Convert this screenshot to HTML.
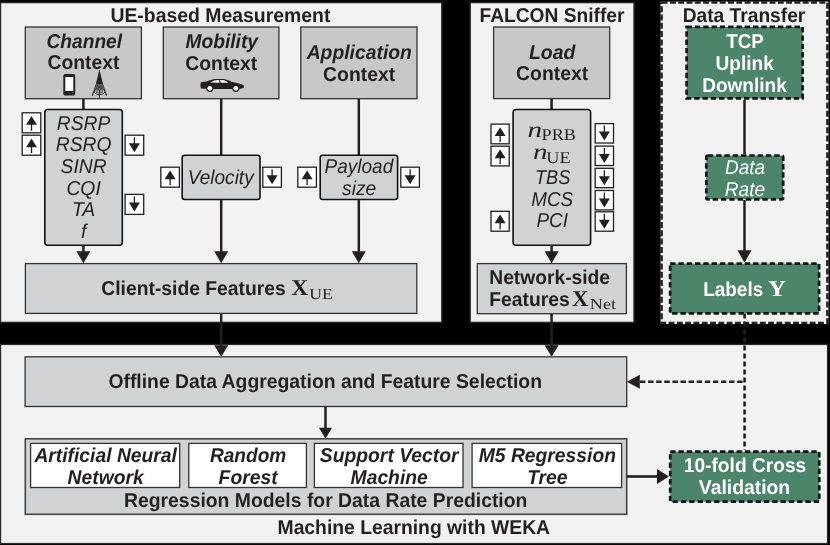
<!DOCTYPE html><html><head><meta charset="utf-8"><title>Data rate prediction framework</title><style>html,body{margin:0;padding:0;background:#000;width:830px;height:545px;overflow:hidden}svg{display:block;will-change:transform}text{text-rendering:geometricPrecision}</style></head><body>
<svg width="830" height="545" viewBox="0 0 830 545">
<rect x="0" y="0" width="830" height="545" fill="#000"/>
<rect x="0.5" y="2.6" width="441.30" height="319.80" rx="0" fill="#f2f2f2" stroke="#2a2a2a" stroke-width="1.4" />
<rect x="470.2" y="2.6" width="163.80" height="319.80" rx="0" fill="#f2f2f2" stroke="#2a2a2a" stroke-width="1.4" />
<rect x="661.6" y="2.6" width="165.8" height="320.4" fill="#f2f2f2"/>
<rect x="661.6" y="2.6" width="165.8" height="320.4" fill="none" stroke="#fff" stroke-width="2"/>
<rect x="661.6" y="2.6" width="165.8" height="320.4" fill="none" stroke="#231f20" stroke-width="2.5" stroke-dasharray="6 2.3"/>
<rect x="0.5" y="344.4" width="827.10" height="199.20" rx="0" fill="#f2f2f2" stroke="#2a2a2a" stroke-width="1.4" />
<text x="220.4" y="22.3" font-family='"Liberation Sans", sans-serif' font-size="20" font-weight="bold" font-style="normal" fill="#231f20" text-anchor="middle" textLength="220" lengthAdjust="spacingAndGlyphs">UE-based Measurement</text>
<text x="552" y="22.2" font-family='"Liberation Sans", sans-serif' font-size="20" font-weight="bold" font-style="normal" fill="#231f20" text-anchor="middle" textLength="145" lengthAdjust="spacingAndGlyphs">FALCON Sniffer</text>
<text x="744" y="22.2" font-family='"Liberation Sans", sans-serif' font-size="20" font-weight="bold" font-style="normal" fill="#231f20" text-anchor="middle" textLength="122.7" lengthAdjust="spacingAndGlyphs">Data Transfer</text>
<rect x="25.3" y="27" width="116.10" height="71.70" rx="0" fill="#c8c8c8" stroke="#333" stroke-width="1.3" />
<rect x="163.3" y="27" width="115.60" height="71.70" rx="0" fill="#c8c8c8" stroke="#333" stroke-width="1.3" />
<rect x="300.8" y="27" width="116.20" height="71.70" rx="0" fill="#c8c8c8" stroke="#333" stroke-width="1.3" />
<rect x="493.6" y="27" width="116.10" height="71.60" rx="0" fill="#c8c8c8" stroke="#333" stroke-width="1.3" />
<text x="84.3" y="48" font-family='"Liberation Sans", sans-serif' font-size="20" font-weight="bold" font-style="italic" fill="#231f20" text-anchor="middle" textLength="75.5" lengthAdjust="spacingAndGlyphs">Channel</text>
<text x="83.5" y="69" font-family='"Liberation Sans", sans-serif' font-size="20" font-weight="bold" font-style="normal" fill="#231f20" text-anchor="middle" textLength="72" lengthAdjust="spacingAndGlyphs">Context</text>
<text x="221.7" y="47.5" font-family='"Liberation Sans", sans-serif' font-size="20" font-weight="bold" font-style="italic" fill="#231f20" text-anchor="middle" textLength="72.6" lengthAdjust="spacingAndGlyphs">Mobility</text>
<text x="221.3" y="69.6" font-family='"Liberation Sans", sans-serif' font-size="20" font-weight="bold" font-style="normal" fill="#231f20" text-anchor="middle" textLength="72" lengthAdjust="spacingAndGlyphs">Context</text>
<text x="359.3" y="59" font-family='"Liberation Sans", sans-serif' font-size="20" font-weight="bold" font-style="italic" fill="#231f20" text-anchor="middle" textLength="105.3" lengthAdjust="spacingAndGlyphs">Application</text>
<text x="359.1" y="80.7" font-family='"Liberation Sans", sans-serif' font-size="20" font-weight="bold" font-style="normal" fill="#231f20" text-anchor="middle" textLength="72" lengthAdjust="spacingAndGlyphs">Context</text>
<text x="552.2" y="59.2" font-family='"Liberation Sans", sans-serif' font-size="20" font-weight="bold" font-style="italic" fill="#231f20" text-anchor="middle" textLength="46.4" lengthAdjust="spacingAndGlyphs">Load</text>
<text x="552.1" y="80.4" font-family='"Liberation Sans", sans-serif' font-size="20" font-weight="bold" font-style="normal" fill="#231f20" text-anchor="middle" textLength="72" lengthAdjust="spacingAndGlyphs">Context</text>
<rect x="63.3" y="73.9" width="11.9" height="21.7" rx="1.8" fill="#231f20"/>
<rect x="65.3" y="77" width="8" height="14" fill="#fff"/>
<rect x="68.3" y="93" width="2" height="0.7" fill="#666"/>
<line x1="99.4" y1="70" x2="99.4" y2="98.4" stroke="#231f20" stroke-width="0.9"/>
<path d="M99.4 71.8 Q97 84 92.3 95.7 M99.4 71.8 Q101.8 84 106.6 95.7" stroke="#231f20" stroke-width="1.1" fill="none"/>
<polygon points="99.4,72.2 96.1,84.5 102.7,84.5" fill="#231f20"/>
<polygon points="96.1,84.5 102.7,84.5 104.4,90.3 94.4,90.3" fill="#5e5e5e"/>
<path d="M97 85.5 L103.5 89.5 M101.8 85.5 L95.3 89.5" stroke="#333" stroke-width="0.6" fill="none"/>
<line x1="94" y1="91" x2="104.8" y2="91" stroke="#231f20" stroke-width="0.9" stroke-dasharray="1.6 0.9"/>
<path d="M93.6 92 Q99.4 97.8 105.2 92" stroke="#231f20" stroke-width="0.9" fill="none"/>
<path d="M96 92.3 Q99.4 94 102.8 92.3" stroke="#231f20" stroke-width="0.7" fill="none"/>
<path d="M200.6 83 L201.6 82 L206.7 81.5 L210.4 80 L214.8 79.1 L223.6 79.1 L228 80 L231.7 81.8 L239.9 83.7 L243.3 85 L244.2 86.2 L243.9 87.6 L242 88.6 L238.6 89 L233 89 L212.6 89 L207 89 L201 88.6 L200.4 86 Z" fill="#231f20"/>
<path d="M210.3 82.6 L214.2 80.4 L219.2 80.1 L219.3 82.7 Z M220 80.1 L224.2 80.2 L227.6 82 L227.6 82.7 L220.7 82.7 Z" fill="#fff"/>
<circle cx="209.8" cy="88.3" r="3.6" fill="#231f20"/><circle cx="209.8" cy="88.3" r="2.4" fill="#fff"/>
<circle cx="235.8" cy="88.3" r="3.6" fill="#231f20"/><circle cx="235.8" cy="88.3" r="2.4" fill="#fff"/>
<line x1="83.4" y1="99" x2="83.4" y2="110" stroke="#231f20" stroke-width="2.5"/>
<line x1="221.2" y1="99" x2="221.2" y2="156" stroke="#231f20" stroke-width="2.5"/>
<line x1="358.8" y1="99" x2="358.8" y2="156" stroke="#231f20" stroke-width="2.5"/>
<line x1="551.6" y1="98.6" x2="551.6" y2="110" stroke="#231f20" stroke-width="2.5"/>
<line x1="744.5" y1="99.3" x2="744.5" y2="155" stroke="#231f20" stroke-width="2.5"/>
<rect x="44.8" y="109.5" width="77.50" height="135.80" rx="3" fill="#d1d2d4" stroke="#111" stroke-width="1.6" />
<rect x="513.1" y="109.5" width="77.50" height="135.80" rx="3" fill="#d1d2d4" stroke="#111" stroke-width="1.6" />
<text x="83.6" y="129.9" font-family='"Liberation Sans", sans-serif' font-size="20" font-weight="normal" font-style="italic" fill="#231f20" text-anchor="middle" textLength="53.5" lengthAdjust="spacingAndGlyphs">RSRP</text>
<text x="83.6" y="151.4" font-family='"Liberation Sans", sans-serif' font-size="20" font-weight="normal" font-style="italic" fill="#231f20" text-anchor="middle" textLength="55.76" lengthAdjust="spacingAndGlyphs">RSRQ</text>
<text x="83.6" y="173.0" font-family='"Liberation Sans", sans-serif' font-size="20" font-weight="normal" font-style="italic" fill="#231f20" text-anchor="middle" textLength="46.11" lengthAdjust="spacingAndGlyphs">SINR</text>
<text x="83.6" y="194.6" font-family='"Liberation Sans", sans-serif' font-size="20" font-weight="normal" font-style="italic" fill="#231f20" text-anchor="middle" textLength="34.31" lengthAdjust="spacingAndGlyphs">CQI</text>
<text x="83.6" y="216.3" font-family='"Liberation Sans", sans-serif' font-size="20" font-weight="normal" font-style="italic" fill="#231f20" text-anchor="middle" textLength="23.23" lengthAdjust="spacingAndGlyphs">TA</text>
<text x="83.6" y="238.0" font-family='"Liberation Sans", sans-serif' font-size="20" font-weight="normal" font-style="italic" fill="#231f20" text-anchor="middle" textLength="5.36" lengthAdjust="spacingAndGlyphs"><tspan>f</tspan></text>
<text x="527.4" y="137.2" font-family='"Liberation Serif", serif' font-size="22.5" font-weight="normal" font-style="italic" fill="#231f20" text-anchor="start" textLength="14.6" lengthAdjust="spacingAndGlyphs">n</text>
<text x="541.6" y="140.1" font-family='"Liberation Serif", serif' font-size="16.6" font-weight="normal" font-style="normal" fill="#231f20" text-anchor="start" textLength="34.4" lengthAdjust="spacingAndGlyphs">PRB</text>
<text x="532.9" y="159.4" font-family='"Liberation Serif", serif' font-size="22.5" font-weight="normal" font-style="italic" fill="#231f20" text-anchor="start" textLength="14.6" lengthAdjust="spacingAndGlyphs">n</text>
<text x="546.3" y="163.1" font-family='"Liberation Serif", serif' font-size="16.6" font-weight="normal" font-style="normal" fill="#231f20" text-anchor="start" textLength="24.3" lengthAdjust="spacingAndGlyphs">UE</text>
<text x="552.7" y="183.7" font-family='"Liberation Sans", sans-serif' font-size="20" font-weight="normal" font-style="italic" fill="#231f20" text-anchor="middle" textLength="35.5" lengthAdjust="spacingAndGlyphs">TBS</text>
<text x="552.2" y="205.5" font-family='"Liberation Sans", sans-serif' font-size="20" font-weight="normal" font-style="italic" fill="#231f20" text-anchor="middle" textLength="41.9" lengthAdjust="spacingAndGlyphs">MCS</text>
<text x="552.2" y="227.2" font-family='"Liberation Sans", sans-serif' font-size="20" font-weight="normal" font-style="italic" fill="#231f20" text-anchor="middle" textLength="31.6" lengthAdjust="spacingAndGlyphs">PCI</text>
<rect x="182.2" y="155.3" width="77.80" height="44.20" rx="2.5" fill="#d1d2d4" stroke="#111" stroke-width="1.6" />
<rect x="320.2" y="155.3" width="77.40" height="44.20" rx="2.5" fill="#d1d2d4" stroke="#111" stroke-width="1.6" />
<text x="220.7" y="184.3" font-family='"Liberation Sans", sans-serif' font-size="20" font-weight="normal" font-style="italic" fill="#231f20" text-anchor="middle" textLength="66" lengthAdjust="spacingAndGlyphs">Velocity</text>
<text x="358.9" y="172.9" font-family='"Liberation Sans", sans-serif' font-size="20" font-weight="normal" font-style="italic" fill="#231f20" text-anchor="middle" textLength="68.6" lengthAdjust="spacingAndGlyphs">Payload</text>
<text x="359.2" y="195.3" font-family='"Liberation Sans", sans-serif' font-size="20" font-weight="normal" font-style="italic" fill="#231f20" text-anchor="middle" textLength="34.32" lengthAdjust="spacingAndGlyphs">size</text>
<rect x="22.2" y="112.8" width="18.60" height="20.00" rx="0" fill="#fff" stroke="#231f20" stroke-width="1.3" />
<polygon points="31.5,116.0 26.0,124.8 37.0,124.8" fill="#231f20"/>
<line x1="31.5" y1="123.8" x2="31.5" y2="130.8" stroke="#231f20" stroke-width="1.3"/>
<rect x="22.2" y="135.2" width="18.60" height="20.00" rx="0" fill="#fff" stroke="#231f20" stroke-width="1.3" />
<polygon points="31.5,138.39999999999998 26.0,147.2 37.0,147.2" fill="#231f20"/>
<line x1="31.5" y1="146.2" x2="31.5" y2="153.2" stroke="#231f20" stroke-width="1.3"/>
<rect x="125.1" y="135.2" width="18.60" height="20.00" rx="0" fill="#fff" stroke="#231f20" stroke-width="1.3" />
<line x1="134.4" y1="137.2" x2="134.4" y2="144.2" stroke="#231f20" stroke-width="1.3"/>
<polygon points="128.9,143.2 139.9,143.2 134.4,152.2" fill="#231f20"/>
<rect x="125.1" y="194.4" width="18.60" height="20.00" rx="0" fill="#fff" stroke="#231f20" stroke-width="1.3" />
<line x1="134.4" y1="196.4" x2="134.4" y2="203.4" stroke="#231f20" stroke-width="1.3"/>
<polygon points="128.9,202.4 139.9,202.4 134.4,211.4" fill="#231f20"/>
<rect x="160.8" y="167.2" width="18.60" height="20.00" rx="0" fill="#fff" stroke="#231f20" stroke-width="1.3" />
<polygon points="170.10000000000002,170.39999999999998 164.60000000000002,179.2 175.60000000000002,179.2" fill="#231f20"/>
<line x1="170.10000000000002" y1="178.2" x2="170.10000000000002" y2="185.2" stroke="#231f20" stroke-width="1.3"/>
<rect x="262.8" y="167.2" width="18.60" height="20.00" rx="0" fill="#fff" stroke="#231f20" stroke-width="1.3" />
<line x1="272.1" y1="169.2" x2="272.1" y2="176.2" stroke="#231f20" stroke-width="1.3"/>
<polygon points="266.6,175.2 277.6,175.2 272.1,184.2" fill="#231f20"/>
<rect x="297.8" y="167.2" width="18.60" height="20.00" rx="0" fill="#fff" stroke="#231f20" stroke-width="1.3" />
<polygon points="307.1,170.39999999999998 301.6,179.2 312.6,179.2" fill="#231f20"/>
<line x1="307.1" y1="178.2" x2="307.1" y2="185.2" stroke="#231f20" stroke-width="1.3"/>
<rect x="400.8" y="167.2" width="18.60" height="20.00" rx="0" fill="#fff" stroke="#231f20" stroke-width="1.3" />
<line x1="410.1" y1="169.2" x2="410.1" y2="176.2" stroke="#231f20" stroke-width="1.3"/>
<polygon points="404.6,175.2 415.6,175.2 410.1,184.2" fill="#231f20"/>
<rect x="491" y="124.1" width="18.20" height="19.70" rx="0" fill="#fff" stroke="#231f20" stroke-width="1.3" />
<polygon points="500.1,127.3 494.6,136.1 505.6,136.1" fill="#231f20"/>
<line x1="500.1" y1="135.1" x2="500.1" y2="142.1" stroke="#231f20" stroke-width="1.3"/>
<rect x="491" y="146.2" width="18.20" height="19.70" rx="0" fill="#fff" stroke="#231f20" stroke-width="1.3" />
<polygon points="500.1,149.39999999999998 494.6,158.2 505.6,158.2" fill="#231f20"/>
<line x1="500.1" y1="157.2" x2="500.1" y2="164.2" stroke="#231f20" stroke-width="1.3"/>
<rect x="491" y="211.3" width="18.20" height="19.90" rx="0" fill="#fff" stroke="#231f20" stroke-width="1.3" />
<polygon points="500.1,214.5 494.6,223.3 505.6,223.3" fill="#231f20"/>
<line x1="500.1" y1="222.3" x2="500.1" y2="229.3" stroke="#231f20" stroke-width="1.3"/>
<rect x="595.2" y="123.6" width="18.30" height="19.40" rx="0" fill="#fff" stroke="#231f20" stroke-width="1.3" />
<line x1="604.35" y1="125.6" x2="604.35" y2="132.6" stroke="#231f20" stroke-width="1.3"/>
<polygon points="598.85,131.6 609.85,131.6 604.35,140.6" fill="#231f20"/>
<rect x="595.2" y="146.1" width="18.30" height="19.40" rx="0" fill="#fff" stroke="#231f20" stroke-width="1.3" />
<line x1="604.35" y1="148.1" x2="604.35" y2="155.1" stroke="#231f20" stroke-width="1.3"/>
<polygon points="598.85,154.1 609.85,154.1 604.35,163.1" fill="#231f20"/>
<rect x="595.2" y="168.3" width="18.30" height="19.40" rx="0" fill="#fff" stroke="#231f20" stroke-width="1.3" />
<line x1="604.35" y1="170.3" x2="604.35" y2="177.3" stroke="#231f20" stroke-width="1.3"/>
<polygon points="598.85,176.3 609.85,176.3 604.35,185.3" fill="#231f20"/>
<rect x="595.2" y="190.5" width="18.30" height="19.40" rx="0" fill="#fff" stroke="#231f20" stroke-width="1.3" />
<line x1="604.35" y1="192.5" x2="604.35" y2="199.5" stroke="#231f20" stroke-width="1.3"/>
<polygon points="598.85,198.5 609.85,198.5 604.35,207.5" fill="#231f20"/>
<rect x="595.2" y="211.8" width="18.30" height="19.40" rx="0" fill="#fff" stroke="#231f20" stroke-width="1.3" />
<line x1="604.35" y1="213.8" x2="604.35" y2="220.8" stroke="#231f20" stroke-width="1.3"/>
<polygon points="598.85,219.8 609.85,219.8 604.35,228.8" fill="#231f20"/>
<line x1="83.4" y1="245.3" x2="83.4" y2="252" stroke="#231f20" stroke-width="2.5"/>
<polygon points="76.4,251.2 90.4,251.2 83.4,263.2" fill="#231f20"/>
<line x1="221.2" y1="199.5" x2="221.2" y2="252" stroke="#231f20" stroke-width="2.5"/>
<polygon points="214.2,251.2 228.2,251.2 221.2,263.2" fill="#231f20"/>
<line x1="358.8" y1="199.5" x2="358.8" y2="252" stroke="#231f20" stroke-width="2.5"/>
<polygon points="351.8,251.2 365.8,251.2 358.8,263.2" fill="#231f20"/>
<line x1="551.6" y1="245.3" x2="551.6" y2="252" stroke="#231f20" stroke-width="2.5"/>
<polygon points="544.6,251.2 558.6,251.2 551.6,263.2" fill="#231f20"/>
<rect x="25.4" y="263.6" width="391.40" height="49.80" rx="0" fill="#d1d2d4" stroke="#333" stroke-width="1.3" />
<text x="101.3" y="295" font-family='"Liberation Sans", sans-serif' font-size="20" font-weight="bold" font-style="normal" fill="#231f20" text-anchor="start" textLength="184.5" lengthAdjust="spacingAndGlyphs">Client-side Features</text>
<text x="291.3" y="295" font-family='"Liberation Serif", serif' font-size="22.5" font-weight="bold" font-style="normal" fill="#231f20" text-anchor="start" textLength="17" lengthAdjust="spacingAndGlyphs">X</text>
<text x="309.3" y="298.5" font-family='"Liberation Serif", serif' font-size="15.4" font-weight="normal" font-style="normal" fill="#231f20" text-anchor="start" textLength="23.6" lengthAdjust="spacingAndGlyphs">UE</text>
<rect x="477.3" y="263.6" width="149.10" height="50.10" rx="0" fill="#d1d2d4" stroke="#333" stroke-width="1.3" />
<text x="489.3" y="283.5" font-family='"Liberation Sans", sans-serif' font-size="20" font-weight="bold" font-style="normal" fill="#231f20" text-anchor="start" textLength="120.7" lengthAdjust="spacingAndGlyphs">Network-side</text>
<text x="489.3" y="305.7" font-family='"Liberation Sans", sans-serif' font-size="20" font-weight="bold" font-style="normal" fill="#231f20" text-anchor="start" textLength="80.45" lengthAdjust="spacingAndGlyphs">Features</text>
<text x="572" y="305.7" font-family='"Liberation Serif", serif' font-size="22.5" font-weight="bold" font-style="normal" fill="#231f20" text-anchor="start" textLength="16.5" lengthAdjust="spacingAndGlyphs">X</text>
<text x="589.8" y="308.5" font-family='"Liberation Serif", serif' font-size="15.4" font-weight="normal" font-style="normal" fill="#231f20" text-anchor="start" textLength="26.2" lengthAdjust="spacingAndGlyphs">Net</text>
<rect x="685.20" y="25.50" width="118.80" height="74.30" rx="0" fill="#fff"/>
<rect x="686.6" y="26.9" width="116.00" height="71.50" rx="0" fill="#4b866a"/>
<rect x="686.6" y="26.9" width="116.00" height="71.50" rx="0" fill="none" stroke="#141414" stroke-width="2.7" stroke-dasharray="5.4 2.9"/>
<text x="745" y="47.7" font-family='"Liberation Sans", sans-serif' font-size="20" font-weight="bold" font-style="normal" fill="#fff" text-anchor="middle" textLength="37.6" lengthAdjust="spacingAndGlyphs">TCP</text>
<text x="744.7" y="69.8" font-family='"Liberation Sans", sans-serif' font-size="20" font-weight="bold" font-style="normal" fill="#fff" text-anchor="middle" textLength="58.3" lengthAdjust="spacingAndGlyphs">Uplink</text>
<text x="744.5" y="91.9" font-family='"Liberation Sans", sans-serif' font-size="20" font-weight="bold" font-style="normal" fill="#fff" text-anchor="middle" textLength="84.6" lengthAdjust="spacingAndGlyphs">Downlink</text>
<rect x="704.90" y="154.10" width="79.70" height="46.60" rx="2.9" fill="#fff"/>
<rect x="706.3" y="155.5" width="76.90" height="43.80" rx="1.5" fill="#4b866a"/>
<rect x="706.3" y="155.5" width="76.90" height="43.80" rx="1.5" fill="none" stroke="#141414" stroke-width="2.7" stroke-dasharray="5.4 2.9"/>
<text x="745" y="173.8" font-family='"Liberation Sans", sans-serif' font-size="20" font-weight="normal" font-style="italic" fill="#fff" text-anchor="middle" textLength="40.1" lengthAdjust="spacingAndGlyphs">Data</text>
<text x="745" y="195.7" font-family='"Liberation Sans", sans-serif' font-size="20" font-weight="normal" font-style="italic" fill="#fff" text-anchor="middle" textLength="40.4" lengthAdjust="spacingAndGlyphs">Rate</text>
<line x1="744.5" y1="200" x2="744.5" y2="252" stroke="#231f20" stroke-width="2.5"/>
<polygon points="737.5,250.3 751.5,250.3 744.5,262.8" fill="#231f20"/>
<rect x="668.70" y="262.20" width="151.80" height="52.50" rx="0" fill="#fff"/>
<rect x="670.1" y="263.6" width="149.00" height="49.70" rx="0" fill="#4b866a"/>
<rect x="670.1" y="263.6" width="149.00" height="49.70" rx="0" fill="none" stroke="#141414" stroke-width="2.7" stroke-dasharray="5.4 2.9"/>
<text x="703.2" y="295.6" font-family='"Liberation Sans", sans-serif' font-size="20" font-weight="bold" font-style="normal" fill="#fff" text-anchor="start" textLength="60" lengthAdjust="spacingAndGlyphs">Labels</text>
<text x="767.9" y="295.6" font-family='"Liberation Serif", serif' font-size="22.5" font-weight="bold" font-style="normal" fill="#fff" text-anchor="start" textLength="18" lengthAdjust="spacingAndGlyphs">Y</text>
<line x1="744.6" y1="313.5" x2="744.6" y2="450.5" stroke="#231f20" stroke-width="2.6" stroke-dasharray="5 3"/>
<line x1="640" y1="381.7" x2="744.6" y2="381.7" stroke="#231f20" stroke-width="2.6" stroke-dasharray="5.4 2.7"/>
<polygon points="639.8,374.7 639.8,388.7 626.8,381.7" fill="#231f20"/>
<line x1="221.2" y1="313.3" x2="221.2" y2="346" stroke="#231f20" stroke-width="2.5"/>
<polygon points="214.2,345.3 228.2,345.3 221.2,356.8" fill="#231f20"/>
<line x1="551.6" y1="313.7" x2="551.6" y2="346" stroke="#231f20" stroke-width="2.5"/>
<polygon points="544.6,345.3 558.6,345.3 551.6,356.8" fill="#231f20"/>
<rect x="25.1" y="356.8" width="601.60" height="49.70" rx="0" fill="#d1d2d4" stroke="#333" stroke-width="1.3" />
<text x="325.2" y="387.7" font-family='"Liberation Sans", sans-serif' font-size="20" font-weight="bold" font-style="normal" fill="#231f20" text-anchor="middle" textLength="433.6" lengthAdjust="spacingAndGlyphs">Offline Data Aggregation and Feature Selection</text>
<line x1="325.5" y1="406.5" x2="325.5" y2="428" stroke="#231f20" stroke-width="2.5"/>
<polygon points="319.0,427.8 332.0,427.8 325.5,438.8" fill="#231f20"/>
<rect x="25.3" y="438.8" width="601.40" height="75.50" rx="0" fill="#d1d2d4" stroke="#444" stroke-width="1.6" />
<rect x="30.6" y="443.4" width="149.10" height="44.10" rx="0" fill="#fff" stroke="#333" stroke-width="1.3" />
<text x="105.64999999999999" y="462.2" font-family='"Liberation Sans", sans-serif' font-size="20" font-weight="bold" font-style="italic" fill="#231f20" text-anchor="middle" textLength="142.5" lengthAdjust="spacingAndGlyphs">Artificial Neural</text>
<text x="105.64999999999999" y="484.2" font-family='"Liberation Sans", sans-serif' font-size="20" font-weight="bold" font-style="italic" fill="#231f20" text-anchor="middle" textLength="76.15" lengthAdjust="spacingAndGlyphs">Network</text>
<rect x="188.8" y="443.4" width="117.60" height="44.10" rx="0" fill="#fff" stroke="#333" stroke-width="1.3" />
<text x="248.1" y="462.2" font-family='"Liberation Sans", sans-serif' font-size="20" font-weight="bold" font-style="italic" fill="#231f20" text-anchor="middle" textLength="76.3" lengthAdjust="spacingAndGlyphs">Random</text>
<text x="248.1" y="484.2" font-family='"Liberation Sans", sans-serif' font-size="20" font-weight="bold" font-style="italic" fill="#231f20" text-anchor="middle" textLength="59" lengthAdjust="spacingAndGlyphs">Forest</text>
<rect x="314.4" y="443.4" width="148.60" height="44.10" rx="0" fill="#fff" stroke="#333" stroke-width="1.3" />
<text x="389.2" y="462.2" font-family='"Liberation Sans", sans-serif' font-size="20" font-weight="bold" font-style="italic" fill="#231f20" text-anchor="middle" textLength="138.69" lengthAdjust="spacingAndGlyphs">Support Vector</text>
<text x="389.2" y="484.2" font-family='"Liberation Sans", sans-serif' font-size="20" font-weight="bold" font-style="italic" fill="#231f20" text-anchor="middle" textLength="77.22" lengthAdjust="spacingAndGlyphs">Machine</text>
<rect x="472.1" y="443.4" width="149.50" height="44.10" rx="0" fill="#fff" stroke="#333" stroke-width="1.3" />
<text x="547.35" y="462.2" font-family='"Liberation Sans", sans-serif' font-size="20" font-weight="bold" font-style="italic" fill="#231f20" text-anchor="middle" textLength="137.29" lengthAdjust="spacingAndGlyphs">M5 Regression</text>
<text x="547.35" y="484.2" font-family='"Liberation Sans", sans-serif' font-size="20" font-weight="bold" font-style="italic" fill="#231f20" text-anchor="middle" textLength="40.42" lengthAdjust="spacingAndGlyphs">Tree</text>
<text x="325.7" y="507.4" font-family='"Liberation Sans", sans-serif' font-size="20" font-weight="bold" font-style="normal" fill="#231f20" text-anchor="middle" textLength="403.4" lengthAdjust="spacingAndGlyphs">Regression Models for Data Rate Prediction</text>
<text x="413.8" y="533.5" font-family='"Liberation Sans", sans-serif' font-size="20" font-weight="bold" font-style="normal" fill="#231f20" text-anchor="middle" textLength="272.5" lengthAdjust="spacingAndGlyphs">Machine Learning with WEKA</text>
<line x1="626.7" y1="476.5" x2="658" y2="476.5" stroke="#231f20" stroke-width="2.6"/>
<polygon points="657,469.0 657,484.0 669,476.5" fill="#231f20"/>
<rect x="668.80" y="450.30" width="151.90" height="52.70" rx="0" fill="#fff"/>
<rect x="670.2" y="451.7" width="149.10" height="49.90" rx="0" fill="#4b866a"/>
<rect x="670.2" y="451.7" width="149.10" height="49.90" rx="0" fill="none" stroke="#141414" stroke-width="2.7" stroke-dasharray="5.4 2.9"/>
<text x="745" y="472.2" font-family='"Liberation Sans", sans-serif' font-size="20" font-weight="bold" font-style="normal" fill="#fff" text-anchor="middle" textLength="122.4" lengthAdjust="spacingAndGlyphs">10-fold Cross</text>
<text x="744.5" y="494.2" font-family='"Liberation Sans", sans-serif' font-size="20" font-weight="bold" font-style="normal" fill="#fff" text-anchor="middle" textLength="91.4" lengthAdjust="spacingAndGlyphs">Validation</text>
</svg></body></html>
